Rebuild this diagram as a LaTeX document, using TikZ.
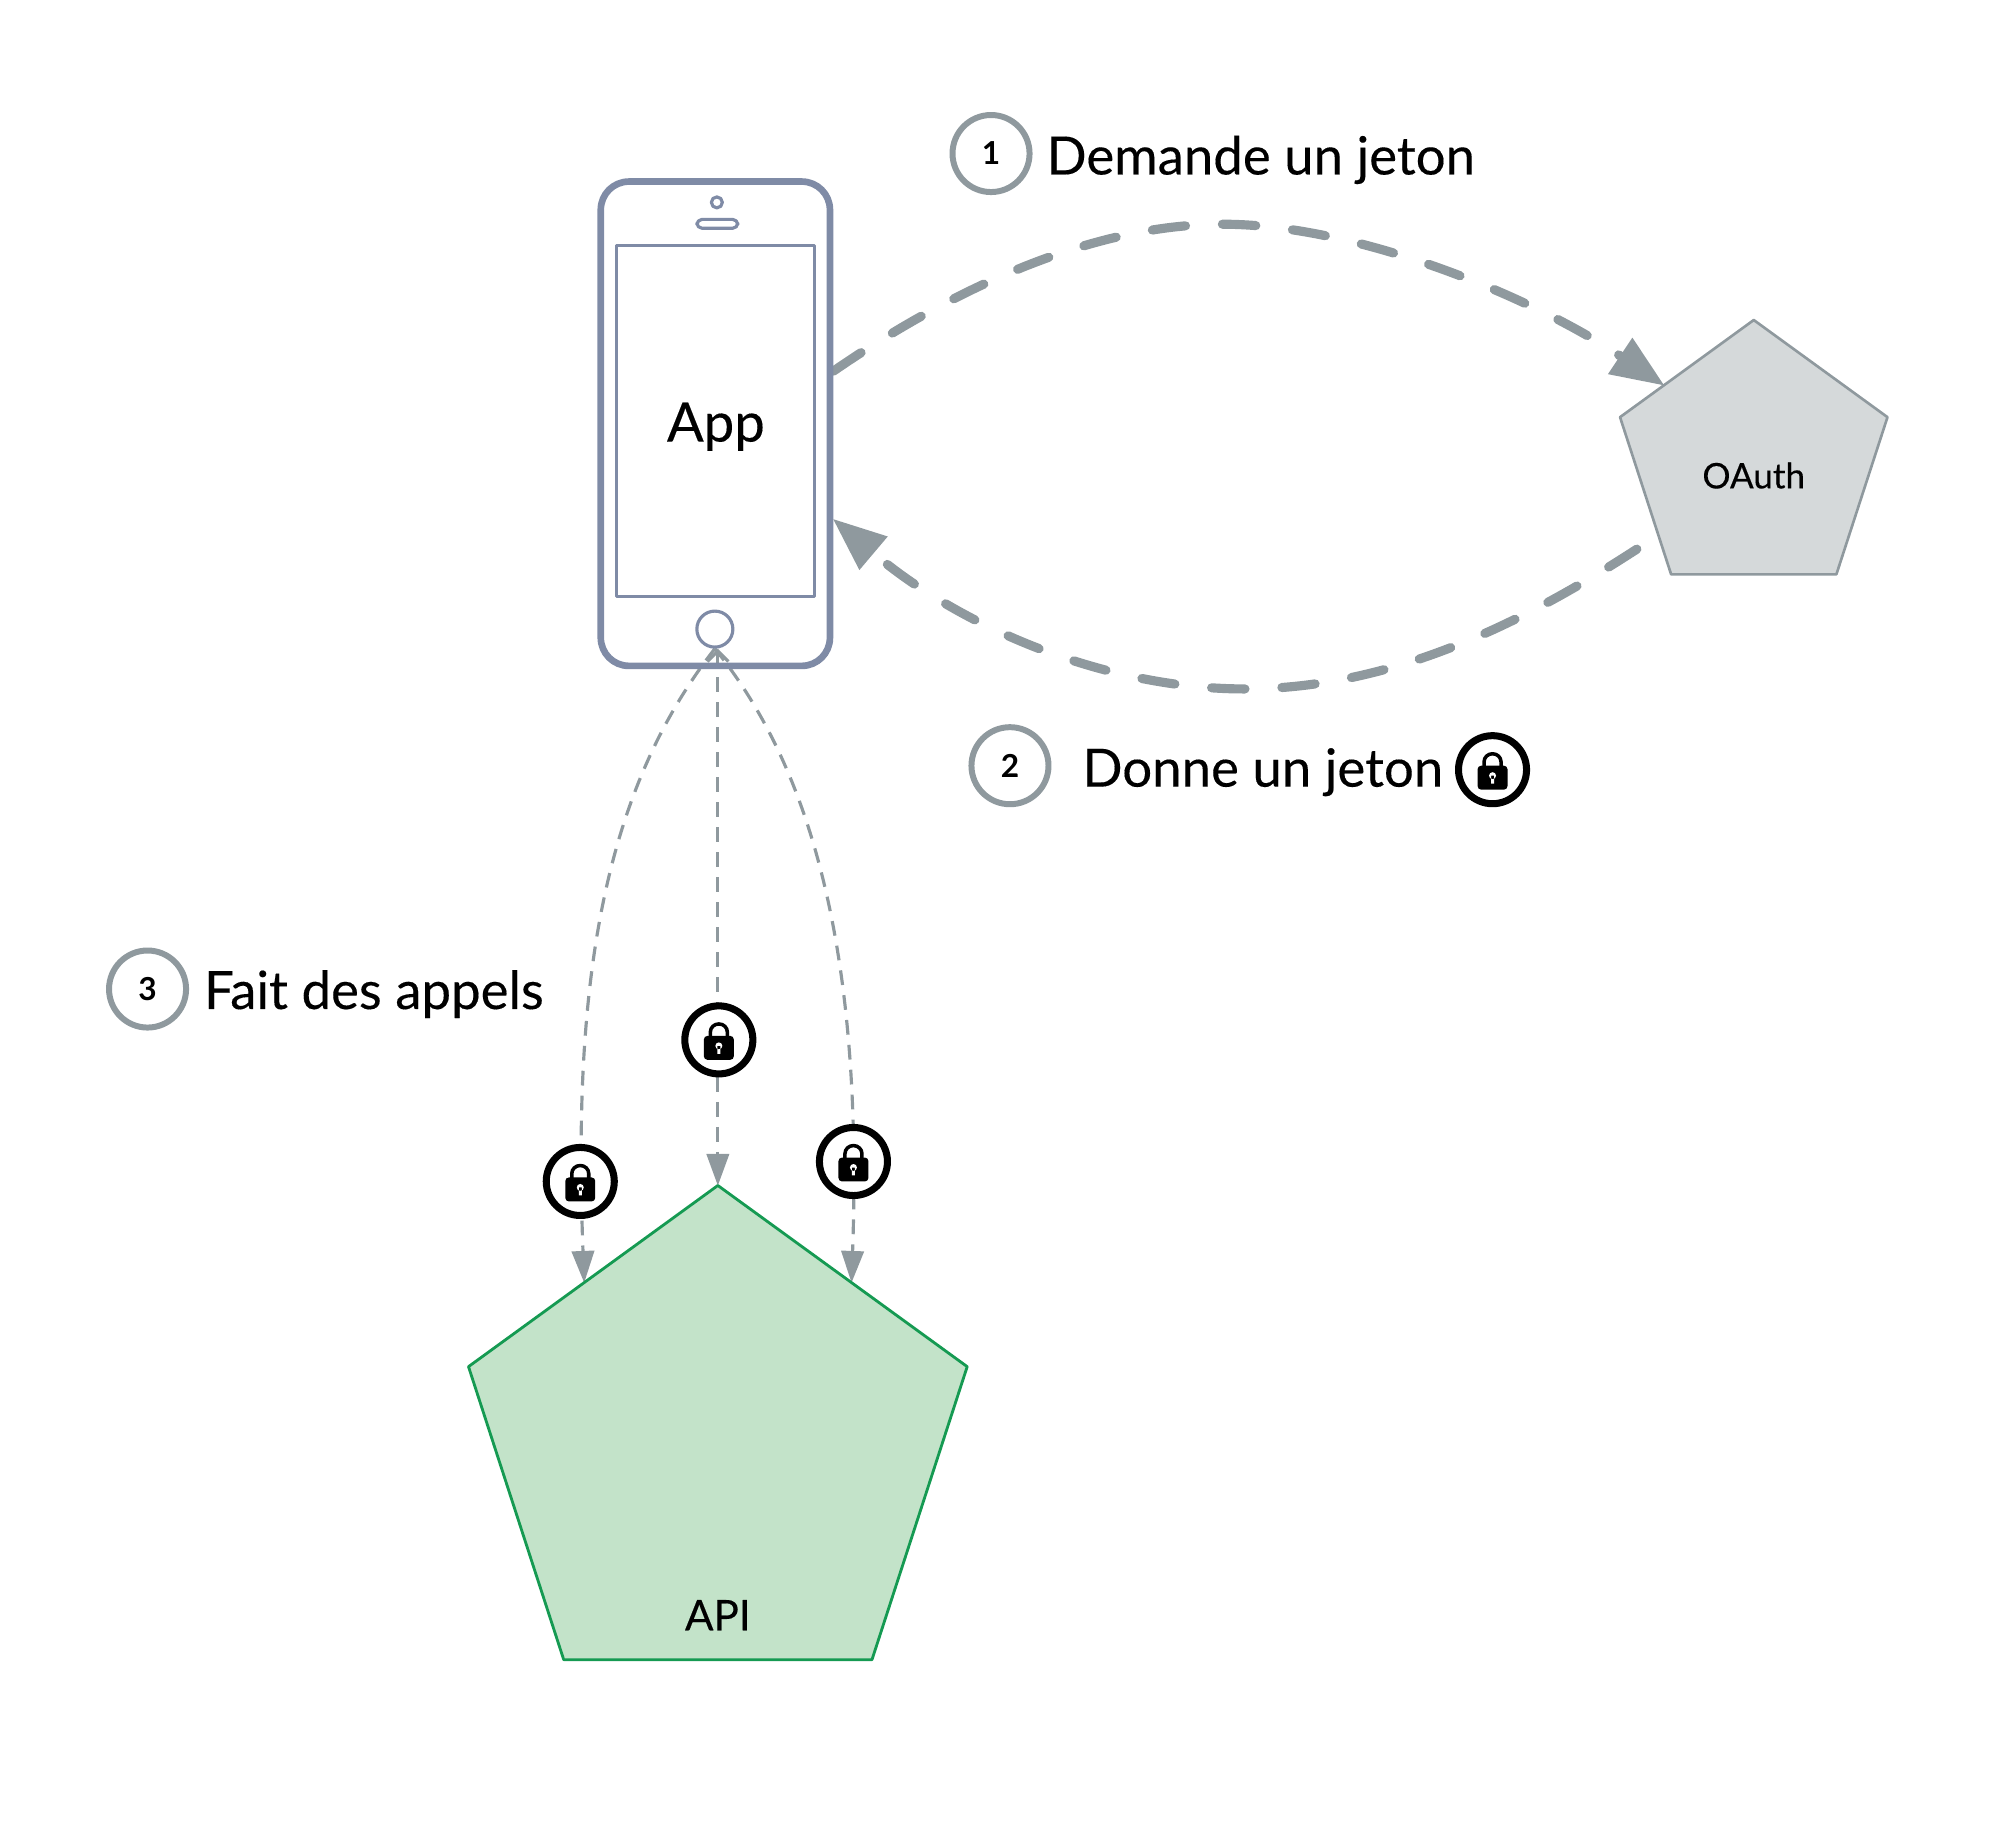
\documentclass[tikz,border=0pt]{standalone}
\usepackage{fontspec}
\setmainfont{Lato}[UprightFeatures={FakeBold=0.25}]
\usetikzlibrary{arrows.meta,shapes.geometric,backgrounds}
\definecolor{phoneblue}{HTML}{7F8BA6}
\definecolor{arrowgray}{HTML}{8F999E}
\definecolor{oauthfill}{HTML}{D5D9DA}
\definecolor{apifill}{HTML}{C3E3C9}
\definecolor{apiline}{HTML}{159A52}
\tikzset{
	phonebody/.style={draw=phoneblue, line width=1.9pt, rounded corners=8pt, minimum width=2.29cm, minimum height=4.84cm},
	phonepart/.style={draw=phoneblue, line width=.9pt},
	bigarrow/.style={arrowgray, line width=2.6pt, line cap=round, dash pattern=on 9.5pt off 10.5pt, -{Triangle[length=15pt,width=12.5pt,line width=0pt]}},
	callarrow/.style={arrowgray, line width=.9pt, dash pattern=on 4.2pt off 2.9pt, -{Triangle[length=9pt,width=6.6pt,line width=0pt]}},
	pentagon/.style={regular polygon, regular polygon sides=5, inner sep=0pt, outer sep=0pt},
	stepcircle/.style={circle, draw=arrowgray, line width=1.7pt, minimum size=.77cm, inner sep=0pt, font=\fontsize{9}{10}\selectfont\bfseries},
	locknode/.style={circle, draw=black, fill=white, line width=2pt, minimum size=.68cm, inner sep=0pt},
	steptext/.style={anchor=base west, inner sep=0pt, font=\fontsize{15}{18}\selectfont},
	padlock/.pic={
		\draw[line width=1pt] (-8.5,-3)--(-8.5,-8) arc[start angle=180,end angle=0,x radius=8.5,y radius=-8]--(8.5,-3);
		\fill[rounded corners=1pt] (-15,-4) rectangle (15,20);
		\fill[white] (0,6) circle(3.5) (-1.5,6) rectangle (1.5,14);
	}
}
\begin{document}
\begin{tikzpicture}[x=.00997cm, y=-.00997cm, line join=round]
	\useasboundingbox (0,0) rectangle (2006,1825.5);
	% phone
	\node[phonebody] (phone) at (717.5,425) {};
	\node[font=\fontsize{15.5}{18}\selectfont] (apptext) at (718,428) {App};
	\draw[phonepart] (618,246) rectangle (817,598);
	\node[circle, phonepart, minimum size=.36cm, inner sep=0pt] (home) at (717,631) {};
	\draw[phonepart] (719,203) circle(5.5);
	\draw[phonepart, rounded corners=1.5pt] (699,220) rectangle (740,229);
	% servers
	\node[pentagon, draw=arrowgray, fill=oauthfill, line width=.75pt, minimum size=2.81cm] (oauth) at (1759,462) {};
	\node[font=\fontsize{10}{12}\selectfont] (oauthtext) at (1759,477) {OAuth};
	\node[pentagon, draw=apiline, fill=apifill, line width=.8pt, minimum size=5.24cm] (api) at (720,1452) {};
	\node[font=\fontsize{12}{14}\selectfont] (apitext) at (720,1620) {API};
	% arrows
	\begin{scope}[on background layer]
		\draw[bigarrow] (phone.24) .. controls (970,280) and (1110,222) .. (1235,225)
			.. controls (1370,228) and (1540,300) .. (oauth.140);
		\draw[bigarrow, shorten <=7.3pt] (oauth.218.7) .. controls (1520,630) and (1390,691) .. (1248,691)
			.. controls (1110,691) and (965,630) .. (phone.-39.3);
		\draw[callarrow] (home.south) .. controls (600,800) and (575,1000) .. (api.129);
		\draw[callarrow] (home.south) .. controls (830,790) and (864,1000) .. (api.51.8);
		\draw[callarrow, {Straight Barb[length=3pt,width=6pt]}-{Triangle[length=9pt,width=6.6pt,line width=0pt]}] (home.south -| api.corner 1)--(api.corner 1);
	\end{scope}
	% locks
	\foreach \nm/\x/\y in {lockb/721/1043, locka/582/1185, lockc/856/1165, lockd/1497/772}{
		\node[locknode] (\nm) at (\x,\y) {};
		\pic at (\nm) {padlock};
	}
	% steps
	\node[stepcircle] (stepa) at (994,154) {1};
	\node[steptext] (stepatext) at (1049,175) {Demande un jeton};
	\node[stepcircle] (stepb) at (1013,768) {2};
	\node[steptext] (stepbtext) at (1085,789) {Donne un jeton};
	\node[stepcircle] (stepc) at (148,992) {3};
	\node[steptext] (stepctext) at (204,1012) {Fait des appels};
\end{tikzpicture}
\end{document}
